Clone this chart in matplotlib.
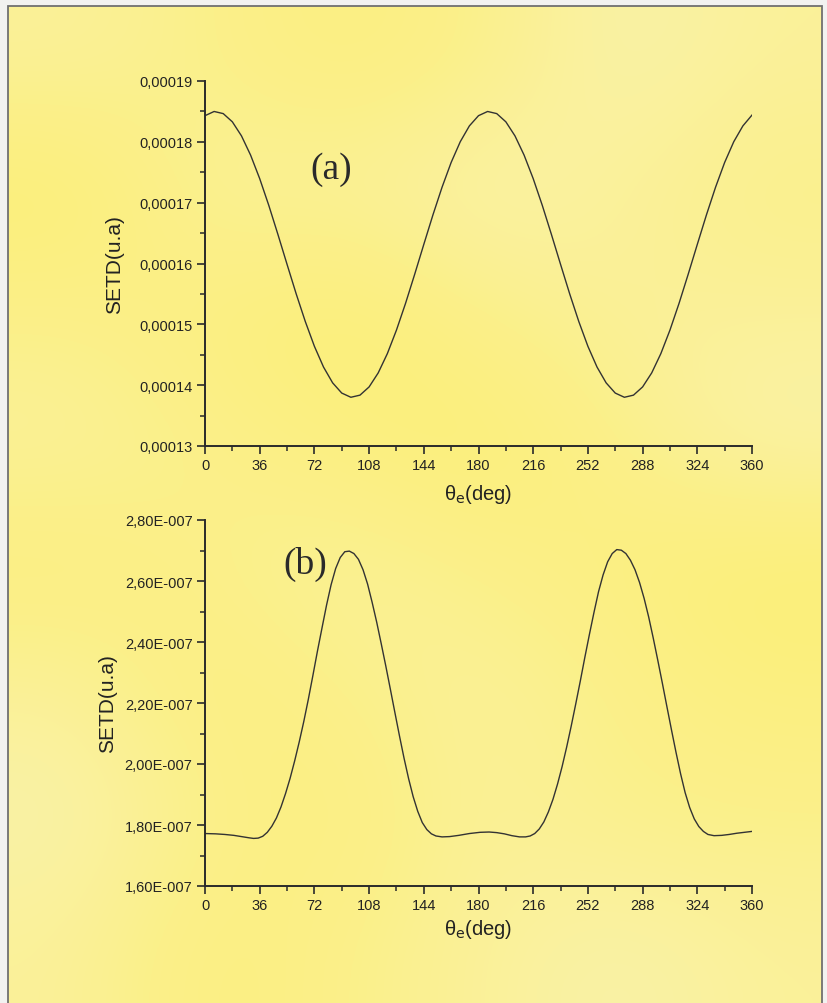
import numpy as np
import matplotlib
matplotlib.use("Agg")
import matplotlib.pyplot as plt
from matplotlib.ticker import FixedLocator, FixedFormatter, MultipleLocator
from matplotlib.colors import LinearSegmentedColormap
from matplotlib.patches import Rectangle

# ---------------- data ----------------
theta_a = [0, 6, 12, 18, 24, 30, 36, 42, 48, 54, 60, 66, 72, 78, 84, 90, 96, 102,
           108, 114, 120, 126, 132, 138, 144, 150, 156, 162, 168, 174, 180, 186,
           192, 198, 204, 210, 216, 222, 228, 234, 240, 246, 252, 258, 264, 270,
           276, 282, 288, 294, 300, 306, 312, 318, 324, 330, 336, 342, 348, 354, 360]
setd_a = [184.30, 184.99, 184.64, 183.29, 180.98, 177.82, 173.95, 169.54, 164.77,
          159.86, 155.02, 150.47, 146.39, 142.98, 140.38, 138.70, 138.01, 138.36,
          139.71, 142.02, 145.18, 149.05, 153.46, 158.23, 163.14, 167.98, 172.53,
          176.61, 180.02, 182.62, 184.30, 184.99, 184.64, 183.29, 180.98, 177.82,
          173.95, 169.54, 164.77, 159.86, 155.02, 150.47, 146.39, 142.98, 140.38,
          138.70, 138.01, 138.36, 139.71, 142.02, 145.18, 149.05, 153.46, 158.23,
          163.14, 167.98, 172.53, 176.61, 180.02, 182.62, 184.40]  # x 1e-6

theta_b = [0, 7, 13, 19, 24, 29, 32, 35, 38, 41, 44, 47, 50, 53, 56, 59, 62, 65,
           68, 71, 74, 77, 80, 83, 86, 89, 92, 95, 98, 101, 104, 107, 110, 113,
           116, 119, 122, 125, 128, 131, 134, 137, 140, 143, 146, 149, 152, 156,
           161, 167, 174, 181, 187, 192, 197, 202, 207, 211, 214, 217, 220, 223,
           226, 229, 232, 235, 238, 241, 244, 247, 250, 253, 256, 259, 262, 265,
           268, 271, 274, 277, 280, 283, 286, 289, 292, 295, 298, 301, 304, 307,
           310, 313, 316, 319, 322, 325, 328, 331, 335, 340, 345, 350, 355, 360]
setd_b = [1.772, 1.771, 1.769, 1.766, 1.762, 1.758, 1.756, 1.757, 1.763, 1.776,
          1.796, 1.823, 1.859, 1.903, 1.953, 2.010, 2.072, 2.139, 2.212, 2.290,
          2.370, 2.446, 2.521, 2.588, 2.641, 2.677, 2.696, 2.698, 2.690, 2.671,
          2.637, 2.590, 2.530, 2.465, 2.394, 2.321, 2.245, 2.168, 2.092, 2.019,
          1.952, 1.893, 1.845, 1.808, 1.785, 1.771, 1.764, 1.761, 1.762, 1.766,
          1.772, 1.776, 1.777, 1.775, 1.771, 1.765, 1.761, 1.761, 1.764, 1.772,
          1.787, 1.810, 1.843, 1.884, 1.934, 1.991, 2.055, 2.124, 2.197, 2.272,
          2.350, 2.425, 2.497, 2.565, 2.620, 2.663, 2.690, 2.703, 2.701, 2.690,
          2.668, 2.637, 2.595, 2.543, 2.482, 2.413, 2.340, 2.265, 2.188, 2.112,
          2.038, 1.968, 1.906, 1.857, 1.820, 1.795, 1.779, 1.769, 1.765, 1.766,
          1.769, 1.773, 1.776, 1.779]  # x 1e-7

xticks = [0, 36, 72, 108, 144, 180, 216, 252, 288, 324, 360]
yticks_a = [0.00013, 0.00014, 0.00015, 0.00016, 0.00017, 0.00018, 0.00019]
ylabels_a = ["0,00013", "0,00014", "0,00015", "0,00016", "0,00017", "0,00018", "0,00019"]
yticks_b = [1.6e-7, 1.8e-7, 2.0e-7, 2.2e-7, 2.4e-7, 2.6e-7, 2.8e-7]
ylabels_b = ["1,60E-007", "1,80E-007", "2,00E-007", "2,20E-007", "2,40E-007", "2,60E-007", "2,80E-007"]

# ---------------- figure ----------------
plt.rcParams['font.family'] = ['Liberation Sans', 'DejaVu Sans']
W, H = 827, 1004
fig = plt.figure(figsize=(W / 100, H / 100), dpi=100, facecolor='#f2f2f0')

# paper background (decorative yellow wash)
bg = fig.add_axes([8 / W, 0, (822 - 8) / W, 1 - 7 / H], zorder=-10)
wash = np.array([
    [0.5, 0.6, 0.7, 0.6, 0.4, 0.5],
    [0.8, 0.5, 0.5, 0.4, 0.5, 0.6],
    [0.6, 0.7, 0.8, 0.6, 0.5, 0.5],
    [0.5, 0.6, 0.7, 0.8, 0.6, 0.4],
    [0.7, 0.6, 0.5, 0.6, 0.7, 0.8],
    [0.5, 0.7, 0.6, 0.5, 0.6, 0.7],
    [0.4, 0.6, 0.7, 0.5, 0.6, 0.6],
    [0.5, 0.7, 0.6, 0.5, 0.4, 0.5],
])
cmap = LinearSegmentedColormap.from_list('paper', ['#f8f4c8', '#fbf08a', '#fdee62'])
bg.imshow(wash, cmap=cmap, vmin=0.2, vmax=1.0, aspect='auto', interpolation='bicubic')
bg.set_axis_off()
fig.add_artist(Rectangle((8 / W, -0.01), (822 - 8) / W, 1 - 7 / H + 0.01,
                         transform=fig.transFigure, fill=False,
                         edgecolor='#707070', lw=1.3, zorder=5))

L = 205 / W
AW = (752 - 205) / W
ax_a = fig.add_axes([L, 1 - 447 / H, AW, (447 - 82) / H])
ax_b = fig.add_axes([L, 1 - 887 / H, AW, (887 - 521) / H])

line_col = '#333333'
ax_a.plot(theta_a, np.array(setd_a) * 1e-6, color=line_col, lw=1.0)
ax_b.plot(theta_b, np.array(setd_b) * 1e-7, color=line_col, lw=1.0)

txt_col = '#222222'
for ax, yt, yl, ymin_step in [(ax_a, yticks_a, ylabels_a, 0.000005),
                               (ax_b, yticks_b, ylabels_b, 0.1e-7)]:
    ax.set_facecolor('none')
    ax.set_xlim(0, 360)
    ax.set_ylim(yt[0], yt[-1])
    ax.spines['top'].set_visible(False)
    ax.spines['right'].set_visible(False)
    for s in ('left', 'bottom'):
        ax.spines[s].set_color('#2a2a2a')
        ax.spines[s].set_linewidth(1.4)
    ax.xaxis.set_major_locator(FixedLocator(xticks))
    ax.xaxis.set_major_formatter(FixedFormatter([str(v) for v in xticks]))
    ax.xaxis.set_minor_locator(MultipleLocator(18))
    ax.yaxis.set_major_locator(FixedLocator(yt))
    ax.yaxis.set_major_formatter(FixedFormatter(yl))
    ax.yaxis.set_minor_locator(MultipleLocator(ymin_step))
    ax.tick_params(which='major', direction='out', length=6, width=1.2,
                   color='#2a2a2a', labelsize=10.5, labelcolor=txt_col, pad=3)
    ax.tick_params(which='minor', direction='out', length=3.5, width=1.1,
                   color='#2a2a2a')
    ax.set_ylabel('SETD(u.a)', fontsize=15, color=txt_col)
    ax.set_xlabel(r'θ$_{\rm e}$(deg)', fontsize=14.5, color=txt_col)

ax_a.yaxis.set_label_coords(-0.148, 0.5)
ax_b.yaxis.set_label_coords(-0.161, 0.5)
ax_a.xaxis.set_label_coords(0.5, -0.099)
ax_b.xaxis.set_label_coords(0.5, -0.085)

ax_a.text(83, 0.0001756, '(a)', fontsize=27, family=['Liberation Serif', 'DejaVu Serif'],
          ha='center', va='center', color='#2a2a2a')
ax_b.text(66, 2.656e-7, '(b)', fontsize=27, family=['Liberation Serif', 'DejaVu Serif'],
          ha='center', va='center', color='#2a2a2a')

fig.savefig('out.png', dpi=100, facecolor=fig.get_facecolor())
